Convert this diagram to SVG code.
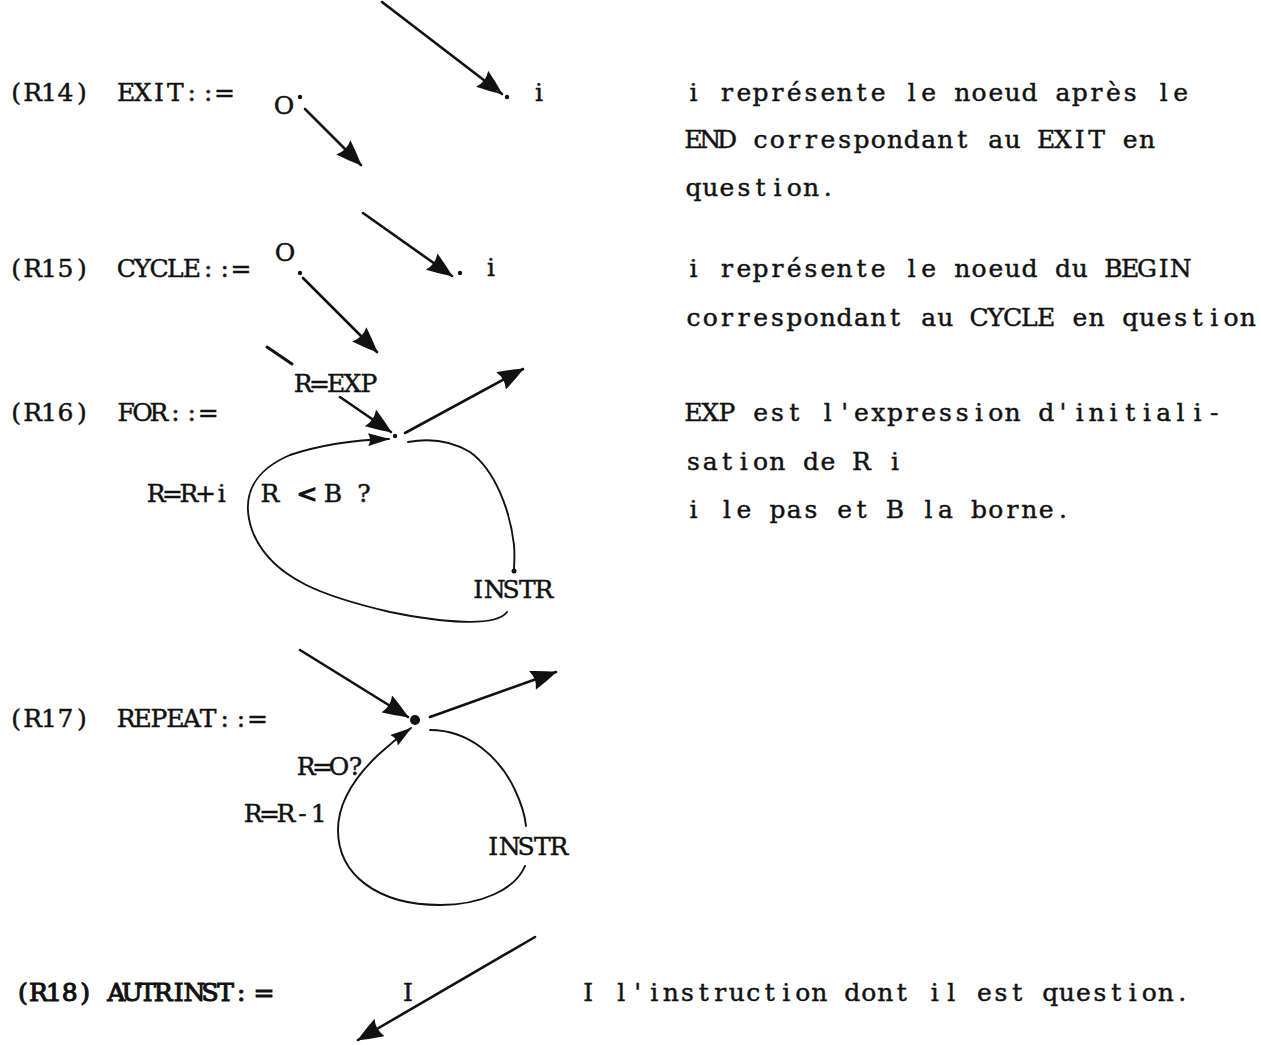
<svg xmlns="http://www.w3.org/2000/svg" width="1261" height="1045" viewBox="0 0 1261 1045">
<style>
text{font-family:"DejaVu Serif","Liberation Serif",serif;font-size:25px;fill:#111;stroke:#111;stroke-width:0.45;text-anchor:middle}
.b{stroke-width:1.1}
.ln{fill:none;stroke:#111;stroke-width:2.6;stroke-linecap:round}
.thin{fill:none;stroke:#111;stroke-width:1.9;stroke-linecap:round}
.dot{fill:#111}
</style>
<defs>
<marker id="ah" markerUnits="userSpaceOnUse" markerWidth="26" markerHeight="20" viewBox="0 0 26 20" refX="25" refY="10" orient="auto">
<path d="M0,0 Q12,4 26,10 Q12,16 0,20 Q5,10 0,0 Z" fill="#111"/>
</marker>
<marker id="as" markerUnits="userSpaceOnUse" markerWidth="22" markerHeight="13" viewBox="0 0 22 13" refX="21" refY="6.5" orient="auto">
<path d="M0,0 Q10,3 22,6.5 Q10,10 0,13 Q4,6.5 0,0 Z" fill="#111"/>
</marker>
</defs>
<rect width="1261" height="1045" fill="#fff"/>

<g id="R14">
<text x="16.2 32.6 49 65.4 81.8" y="101">(R14)</text>
<text x="126.2 142.6 159 175.4 191.8 208.2 224.6" y="101">EXIT::=</text>
<text x="284" y="114">O</text>
<circle class="dot" cx="300" cy="97" r="2.2"/>
<circle class="dot" cx="507" cy="97" r="2.2"/>
<text x="539" y="101">i</text>
</g>

<g id="R15">
<text x="16.2 32.6 49 65.4 81.8" y="277">(R15)</text>
<text x="126.2 142.6 159 175.4 191.8 208.2 224.6 241" y="277">CYCLE::=</text>
<text x="285" y="261">O</text>
<circle class="dot" cx="300" cy="273" r="2.2"/>
<circle class="dot" cx="460" cy="273" r="2.2"/>
<text x="491" y="276">i</text>
</g>

<g id="R16">
<text x="16.2 32.6 49 65.4 81.8" y="421">(R16)</text>
<text x="126.2 142.6 159 175.4 191.8 208.2" y="421">FOR::=</text>
<text x="303.2 319.6 336 352.4 368.8" y="392">R=EXP</text>
<circle class="dot" cx="395" cy="436" r="2.2"/>
<text x="156.2 172.6 189 205.4 221.8" y="502">R=R+i</text>
<text x="270" y="502">R</text>
<text class="b" x="307" y="502">&lt;</text>
<text x="333" y="502">B</text>
<text x="364" y="502">?</text>
<text x="478.2 494.6 511 527.4 543.8" y="598">INSTR</text>
</g>

<g id="R17">
<text x="16.2 32.6 49 65.4 81.8" y="727">(R17)</text>
<text x="126.2 142.6 159 175.4 191.8 208.2 224.6 241 257.4" y="727">REPEAT::=</text>
<circle class="dot" cx="415" cy="720" r="5"/>
<text x="306.2 322.6 339 355.4" y="775">R=O?</text>
<text x="253.2 269.6 286 302.4 318.8" y="822">R=R-1</text>
<text x="493.2 509.6 526 542.4 558.8" y="855">INSTR</text>
</g>

<g id="R18">
<text class="b" x="22.8 38.4 54 69.6 85.2 100.8 116.4 132 147.6 163.2 178.8 194.4 210 225.6 241.2" y="1001">(R18) AUTRINST:</text>
<text class="b" x="264" y="1001">=</text>
<text x="408" y="1001">I</text>
</g>

<g id="notes">
<text x="693.4 710.2 727 743.8 760.6 777.4 794.2 811 827.8 844.6 861.4 878.2 895 911.8 928.6 945.4 962.2 979 995.8 1012.6 1029.4 1046.2 1063 1079.8 1096.6 1113.4 1130.2 1147 1163.8 1180.6 1197.4 1214.2 1231 1247.8" y="101">i représente le noeud après le</text>
<text x="693.4 710.2 727 743.8 760.6 777.4 794.2 811 827.8 844.6 861.4 878.2 895 911.8 928.6 945.4 962.2 979 995.8 1012.6 1029.4 1046.2 1063 1079.8 1096.6 1113.4 1130.2 1147 1163.8 1180.6 1197.4 1214.2 1231 1247.8" y="148">END correspondant au EXIT en</text>
<text x="693.4 710.2 727 743.8 760.6 777.4 794.2 811 827.8 844.6 861.4 878.2 895 911.8 928.6 945.4 962.2 979 995.8 1012.6 1029.4 1046.2 1063 1079.8 1096.6 1113.4 1130.2 1147 1163.8 1180.6 1197.4 1214.2 1231 1247.8" y="196">question.</text>
<text x="693.4 710.2 727 743.8 760.6 777.4 794.2 811 827.8 844.6 861.4 878.2 895 911.8 928.6 945.4 962.2 979 995.8 1012.6 1029.4 1046.2 1063 1079.8 1096.6 1113.4 1130.2 1147 1163.8 1180.6 1197.4 1214.2 1231 1247.8" y="277">i représente le noeud du BEGIN</text>
<text x="693.4 710.2 727 743.8 760.6 777.4 794.2 811 827.8 844.6 861.4 878.2 895 911.8 928.6 945.4 962.2 979 995.8 1012.6 1029.4 1046.2 1063 1079.8 1096.6 1113.4 1130.2 1147 1163.8 1180.6 1197.4 1214.2 1231 1247.8" y="326">correspondant au CYCLE en question</text>
<text x="693.4 710.2 727 743.8 760.6 777.4 794.2 811 827.8 844.6 861.4 878.2 895 911.8 928.6 945.4 962.2 979 995.8 1012.6 1029.4 1046.2 1063 1079.8 1096.6 1113.4 1130.2 1147 1163.8 1180.6 1197.4 1214.2 1231 1247.8" y="421">EXP est l'expression d'initiali-</text>
<text x="693.4 710.2 727 743.8 760.6 777.4 794.2 811 827.8 844.6 861.4 878.2 895 911.8 928.6 945.4 962.2 979 995.8 1012.6 1029.4 1046.2 1063 1079.8 1096.6 1113.4 1130.2 1147 1163.8 1180.6 1197.4 1214.2 1231 1247.8" y="470">sation de R i</text>
<text x="693.4 710.2 727 743.8 760.6 777.4 794.2 811 827.8 844.6 861.4 878.2 895 911.8 928.6 945.4 962.2 979 995.8 1012.6 1029.4 1046.2 1063 1079.8 1096.6 1113.4 1130.2 1147 1163.8 1180.6 1197.4 1214.2 1231 1247.8" y="518">i le pas et B la borne.</text>
<text x="588.3 604.8 621.3 637.8 654.3 670.8 687.3 703.8 720.3 736.8 753.3 769.8 786.3 802.8 819.3 835.8 852.3 868.8 885.3 901.8 918.3 934.8 951.3 967.8 984.3 1000.8 1017.3 1033.8 1050.3 1066.8 1083.3 1099.8 1116.3 1132.8 1149.3 1165.8 1182.3" y="1001">I l'instruction dont il est question.</text>
</g>

<g id="connectors">
<!-- R14 -->
<line class="ln" x1="305" y1="109" x2="361" y2="165" marker-end="url(#ah)"/>
<line class="ln" x1="382" y1="2" x2="502" y2="94" marker-end="url(#ah)"/>
<!-- R15 -->
<line class="ln" x1="303" y1="278" x2="377" y2="352" marker-end="url(#ah)"/>
<line class="ln" x1="363" y1="213" x2="452" y2="276" marker-end="url(#ah)"/>
<!-- R16 -->
<line class="ln" x1="267" y1="347" x2="292" y2="364" style="stroke-width:3"/>
<line class="ln" x1="340" y1="397" x2="391" y2="432" marker-end="url(#ah)"/>
<line class="ln" x1="405" y1="433" x2="523" y2="369" marker-end="url(#ah)"/>
<path class="thin" d="M408,442 C430,438 450,440 470,452 C495,470 510,510 514,545 C515,556 514,565 514,570"/>
<circle class="dot" cx="514" cy="571" r="2.5"/>
<path class="thin" d="M507,612 C495,628 440,622 390,612 C330,598 270,580 252,530 C240,495 255,470 290,455 C320,445 355,440 389,439" marker-end="url(#as)"/>
<!-- R17 -->
<line class="ln" x1="300" y1="650" x2="408" y2="717" marker-end="url(#ah)"/>
<line class="ln" x1="430" y1="717" x2="556" y2="672" marker-end="url(#ah)"/>
<path class="thin" d="M430,730 C470,730 500,758 515,790 C522,805 525,815 526,826"/>
<path class="thin" d="M525,866 C515,890 480,905 440,905 C378,905 338,875 338,830 C338,802 356,776 378,755 C390,744 400,736 411,728" marker-end="url(#as)"/>
<!-- R18 -->
<line class="ln" x1="535" y1="937" x2="358" y2="1040" marker-end="url(#ah)"/>
</g>
</svg>
